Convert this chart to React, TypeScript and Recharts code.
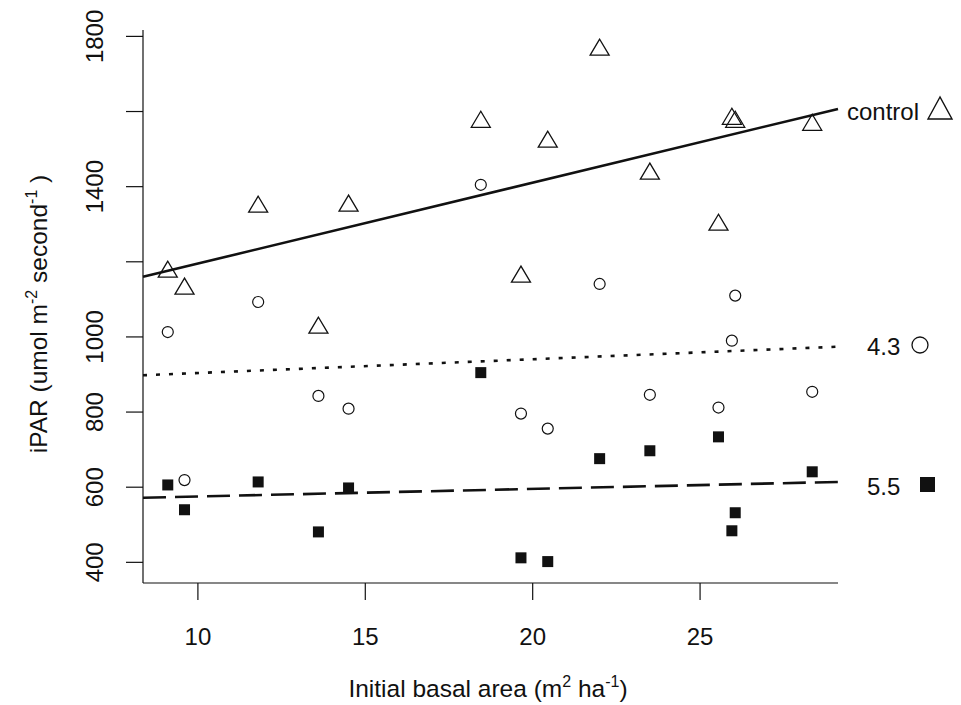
import * as React from "react";
import {
    ComposedChart,
    Label,
    ReferenceLine,
    Scatter,
    XAxis,
    YAxis,
} from "recharts";

// initial basal area per plot (m2/ha)
const basalArea: number[] = [9.1, 9.6, 11.8, 13.6, 14.5, 18.45, 19.65, 20.45, 22.0, 23.5, 25.55, 25.95, 26.05, 28.35];
// iPAR per treatment
const controlPar: number[] = [1179, 1134, 1352, 1030, 1355, 1578, 1166, 1525, 1770, 1440, 1304, 1586, 1578, 1570];
const par43: number[] = [1013, 619, 1093, 843, 809, 1405, 796, 756, 1141, 846, 812, 990, 1110, 854];
const par55: number[] = [606, 540, 614, 481, 598, 905, 412, 402, 676, 697, 734, 484, 532, 641];

// fitted lines, value at left and right edge of plot
const xDomain: number[] = [8.36, 29.12];
const yDomain: number[] = [345, 1817];
const controlFit: number[] = [1160, 1607];
const fit43: number[] = [898, 974];
const fit55: number[] = [572, 614];

const xTicks: number[] = [10, 15, 20, 25];
const yTicks: number[] = [400, 600, 800, 1000, 1200, 1400, 1600, 1800];
const yLabelled: number[] = [400, 600, 800, 1000, 1400, 1800];

const FONT = "'Liberation Sans', Arial, sans-serif";
const FONT_SIZE = 24;
const TITLE_SIZE = 24.5;
const SUP_SIZE = 16;
const INK = "#111";

const toPoints = (ys: number[]) => basalArea.map((x, i) => ({ x, y: ys[i] }));

const Triangle = (props: any) => {
    const { cx, cy } = props;
    return (
        <polygon
            points={`${cx},${cy - 8.5} ${cx - 9.5},${cy + 7.5} ${cx + 9.5},${cy + 7.5}`}
            fill="none" stroke={INK} strokeWidth={1.3} />
    );
};

const Circle = (props: any) => (
    <circle cx={props.cx} cy={props.cy} r={5.5} fill="none" stroke={INK} strokeWidth={1.2} />
);

const Square = (props: any) => (
    <rect x={props.cx - 5.5} y={props.cy - 5.5} width={11} height={11} fill={INK} />
);

const YTick = (props: any) => {
    const { x, y, payload } = props;
    if (!yLabelled.includes(payload.value)) return <g />;
    const tx = x - 29;
    return (
        <text x={tx} y={y} transform={`rotate(-90 ${tx} ${y})`} textAnchor="middle"
            dominantBaseline="central" fontFamily={FONT} fontSize={FONT_SIZE} fill={INK}>
            {payload.value}
        </text>
    );
};

const XTick = (props: any) => {
    const { x, y, payload } = props;
    return (
        <text x={x} y={y + 34} textAnchor="middle" dominantBaseline="central"
            fontFamily={FONT} fontSize={FONT_SIZE} fill={INK}>
            {payload.value}
        </text>
    );
};

const XTitle = () => (
    <text x={488} y={697} textAnchor="middle" fontFamily={FONT} fontSize={TITLE_SIZE} fill={INK}>
        Initial basal area (m<tspan dy={-10} fontSize={SUP_SIZE}>2</tspan>
        <tspan dy={10}> ha</tspan><tspan dy={-10} fontSize={SUP_SIZE}>-1</tspan><tspan dy={10}>)</tspan>
    </text>
);

const YTitle = () => (
    <text x={47} y={314} transform="rotate(-90 47 314)" textAnchor="middle"
        fontFamily={FONT} fontSize={TITLE_SIZE} fill={INK}>
        iPAR (umol m<tspan dy={-10} fontSize={SUP_SIZE}>-2</tspan>
        <tspan dy={10}>  second</tspan><tspan dy={-10} fontSize={SUP_SIZE}>-1</tspan><tspan dy={10}> )</tspan>
    </text>
);

const fitLine = (fit: number[]) => [
    { x: xDomain[0], y: fit[0] },
    { x: xDomain[1], y: fit[1] },
];

export default function App() {
    return (
        <div style={{ position: "absolute", left: 0, top: 0, width: 961, height: 705, background: "#fff" }}>
            <ComposedChart width={961} height={705}
                margin={{ top: 30, right: 123, bottom: 0, left: 0 }}>
                <XAxis dataKey="x" type="number" domain={xDomain} ticks={xTicks}
                    allowDataOverflow height={122} tickSize={17}
                    stroke={INK} strokeWidth={1.2} tick={<XTick />}>
                    <Label content={<XTitle />} />
                </XAxis>
                <YAxis dataKey="y" type="number" domain={yDomain} ticks={yTicks}
                    allowDataOverflow width={143} tickSize={17}
                    stroke={INK} strokeWidth={1.2} tick={<YTick />}>
                    <Label content={<YTitle />} />
                </YAxis>

                <ReferenceLine segment={fitLine(controlFit)} stroke={INK} strokeWidth={2.6} />
                <ReferenceLine segment={fitLine(fit43)} stroke={INK} strokeWidth={2.6} strokeDasharray="4 9" />
                <ReferenceLine segment={fitLine(fit55)} stroke={INK} strokeWidth={2.6} strokeDasharray="23 9" />

                <Scatter name="control" data={toPoints(controlPar)} shape={<Triangle />} isAnimationActive={false} />
                <Scatter name="4.3" data={toPoints(par43)} shape={<Circle />} isAnimationActive={false} />
                <Scatter name="5.5" data={toPoints(par55)} shape={<Square />} isAnimationActive={false} />
            </ComposedChart>

            <svg width={961} height={705} style={{ position: "absolute", left: 0, top: 0, pointerEvents: "none" }}>
                <text x={847} y={111} dominantBaseline="central" fontFamily={FONT} fontSize={FONT_SIZE} fill={INK}>control</text>
                <polygon points="940,97 928,119 952,119" fill="none" stroke={INK} strokeWidth={1.4} />
                <text x={867} y={346} dominantBaseline="central" fontFamily={FONT} fontSize={FONT_SIZE} fill={INK}>4.3</text>
                <circle cx={920} cy={345} r={8} fill="none" stroke={INK} strokeWidth={1.3} />
                <text x={867} y={486} dominantBaseline="central" fontFamily={FONT} fontSize={FONT_SIZE} fill={INK}>5.5</text>
                <rect x={920} y={477} width={15} height={15} fill={INK} />
            </svg>
        </div>
    );
}
